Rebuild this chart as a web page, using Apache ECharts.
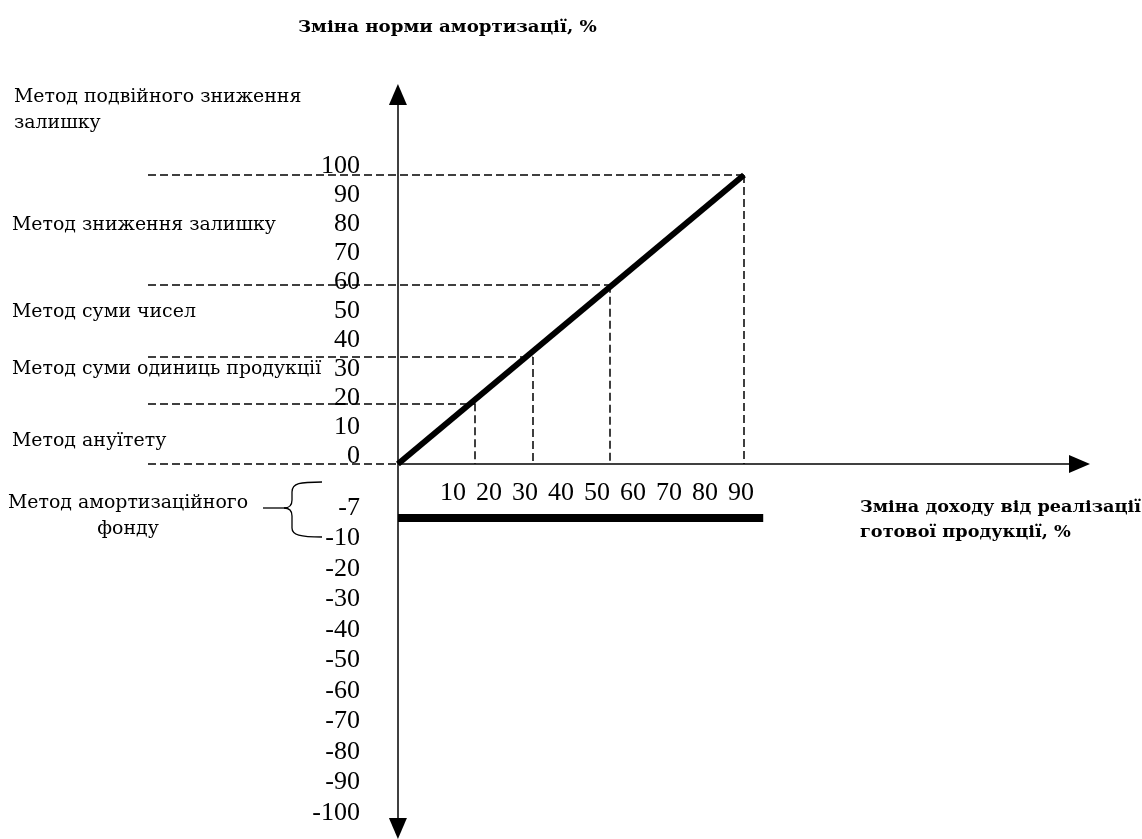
<!DOCTYPE html>
<html><head><meta charset="utf-8">
<script src="https://cdn.jsdelivr.net/npm/echarts@6/dist/echarts.min.js"></script>
<style>html,body{margin:0;padding:0;background:#fff}#chart{width:1142px;height:839px}</style>
</head><body><div id="chart"></div>
<script>
// ---------------- data ----------------
const yTickLabelsPos = ['100','90','80','70','60','50','40','30','20','10','0'];
const yTickLabelsNeg = ['-7','-10','-20','-30','-40','-50','-60','-70','-80','-90','-100'];
const xTickLabels = ['10','20','30','40','50','60','70','80','90'];
const trendX = [0, 90];
const trendY = [0, 100];
const guideX = [20, 35, 55, 90];
const guideY = [21, 37, 62, 100];
const fundLevel = '-7';
const fundX = [0, 95];
const methodNames = [
  'Метод подвійного зниження\nзалишку',
  'Метод зниження залишку',
  'Метод суми чисел',
  'Метод суми одиниць продукції',
  'Метод ануїтету',
  'Метод амортизаційного\nфонду'
];
const yTitle = 'Зміна норми амортизації, %';
const xTitle = 'Зміна доходу від реалізації\nготової продукції, %';

// ---------------- layout ----------------
const W = 1142, H = 839;
const X_MIN = -65, X_MAX = 180, Y_MIN = -129.8, Y_MAX = 131.5;
const G0 = {left: 148, right: 52, top: 464 - 131.5 * 2.89};
G0.bottom = H - (464 + 129.8 * 2.89);
const pxX = (W - G0.left - G0.right) / (X_MAX - X_MIN);
const pxY = (H - G0.top - G0.bottom) / (Y_MAX - Y_MIN);
const ARROW = [18, 21];
const halfX = ARROW[1] / 2 / pxX, halfY = ARROW[1] / 2 / pxY;
const methodLayout = [
  {x: 14, y: 97, align: 'left'},
  {x: 12, y: 225, align: 'left'},
  {x: 12, y: 312, align: 'left'},
  {x: 12, y: 369, align: 'left'},
  {x: 12, y: 441, align: 'left'},
  {x: 128, y: 503, align: 'center'}
];
const TXT = '"DejaVu Serif", "Liberation Serif", serif';
const NUM = '"Liberation Serif", "Times New Roman", serif';

const guideLines = [[{coord: [X_MIN, 0]}, {coord: [0, 0]}]];
guideX.forEach((x, i) => {
  guideLines.push([{coord: [X_MIN, guideY[i]]}, {coord: [x, guideY[i]]}]);
  guideLines.push([{coord: [x, guideY[i]]}, {coord: [x, 0]}]);
});

const hidden = {show: false};
const labelAxisCommon = {axisLine: hidden, axisTick: hidden, splitLine: hidden};

const braceStyle = {fill: null, stroke: '#000', lineWidth: 1.3};
const brace = [
  {type: 'bezierCurve', shape: {x1: 322, y1: 482, cpx1: 300, cpy1: 482, cpx2: 292, cpy2: 483, x2: 292, y2: 492}, style: braceStyle},
  {type: 'line', shape: {x1: 292, y1: 492, x2: 292, y2: 500}, style: braceStyle},
  {type: 'bezierCurve', shape: {x1: 292, y1: 500, cpx1: 292, cpy1: 506, cpx2: 289, cpy2: 508, x2: 284, y2: 508}, style: braceStyle},
  {type: 'bezierCurve', shape: {x1: 284, y1: 508, cpx1: 289, cpy1: 508, cpx2: 292, cpy2: 510, x2: 292, y2: 516}, style: braceStyle},
  {type: 'line', shape: {x1: 292, y1: 516, x2: 292, y2: 528}, style: braceStyle},
  {type: 'bezierCurve', shape: {x1: 292, y1: 528, cpx1: 292, cpy1: 535, cpx2: 300, cpy2: 537, x2: 322, y2: 537}, style: braceStyle},
  {type: 'line', shape: {x1: 263, y1: 508, x2: 284, y2: 508}, style: braceStyle}
];

const option = {
  animation: false,
  backgroundColor: '#fff',
  grid: [
    {left: G0.left, right: G0.right, top: G0.top, bottom: G0.bottom},
    {left: 398, width: 100, top: 166, bottom: H - 456},
    {left: 398, right: 52, top: 518, bottom: H - 823},
    {left: 453, right: W - 741, top: 470, bottom: H - 475}
  ],
  xAxis: [
    {type: 'value', gridIndex: 0, min: X_MIN, max: X_MAX, show: false},
    {type: 'value', gridIndex: 1, min: 0, max: 1, show: false},
    {type: 'value', gridIndex: 2, min: 0, max: X_MAX, show: false},
    Object.assign({type: 'category', gridIndex: 3, data: xTickLabels, boundaryGap: false, position: 'bottom',
      axisLabel: {interval: 0, margin: 5, color: '#000', fontFamily: NUM, fontSize: 26}}, labelAxisCommon)
  ],
  yAxis: [
    {type: 'value', gridIndex: 0, min: Y_MIN, max: Y_MAX, show: false},
    Object.assign({type: 'category', gridIndex: 1, data: yTickLabelsPos, inverse: true, boundaryGap: false, position: 'left',
      axisLabel: {interval: 0, margin: 38, color: '#000', fontFamily: NUM, fontSize: 26, align: 'right'}}, labelAxisCommon),
    Object.assign({type: 'category', gridIndex: 2, data: yTickLabelsNeg, inverse: true, boundaryGap: false, position: 'left',
      axisLabel: {interval: 0, margin: 38, color: '#000', fontFamily: NUM, fontSize: 26, align: 'right',
        verticalAlign: 'bottom', lineHeight: 20}}, labelAxisCommon),
    {type: 'value', gridIndex: 3, min: 0, max: 1, show: false}
  ],
  series: [
    {
      name: 'guides', type: 'line', xAxisIndex: 0, yAxisIndex: 0, data: [], z: 2,
      markLine: {silent: true, symbol: ['none', 'none'], label: {show: false},
        lineStyle: {color: '#000', width: 1.5, type: [8, 4]}, data: guideLines}
    },
    {
      name: 'axes', type: 'line', xAxisIndex: 0, yAxisIndex: 0, data: [], z: 3,
      markLine: {silent: true, symbol: ['none', 'none'], label: {show: false},
        lineStyle: {color: '#000', width: 1.5, type: 'solid'},
        data: [
          [{coord: [0, 0]}, {coord: [X_MAX - halfX, 0], symbol: 'triangle', symbolSize: ARROW}],
          [{coord: [0, Y_MIN + halfY], symbol: 'triangle', symbolSize: ARROW},
           {coord: [0, Y_MAX - halfY], symbol: 'triangle', symbolSize: ARROW}]
        ]}
    },
    {
      name: 'trend', type: 'line', xAxisIndex: 0, yAxisIndex: 0, z: 4,
      data: trendX.map((x, i) => [x, trendY[i]]),
      symbol: 'none', lineStyle: {color: '#000', width: 6}
    },
    {
      name: 'fund', type: 'line', xAxisIndex: 2, yAxisIndex: 2, z: 4,
      data: fundX.map(x => [x, fundLevel]),
      symbol: 'none', lineStyle: {color: '#000', width: 8}
    }
  ],
  graphic: [
    {type: 'text', x: 298, y: 28, scaleX: 1.07, style: {text: yTitle, font: 'bold 17px ' + TXT, fill: '#000',
      textAlign: 'left', textVerticalAlign: 'middle', align: 'left', verticalAlign: 'middle'}},
    {type: 'text', x: 860, y: 495, scaleX: 1.04, style: {text: xTitle, font: 'bold 17px ' + TXT, fill: '#000', lineHeight: 25,
      textAlign: 'left', textVerticalAlign: 'top', align: 'left', verticalAlign: 'top'}},
    ...methodNames.map((t, i) => ({type: 'text', x: methodLayout[i].x, y: methodLayout[i].y - 13, scaleX: 1.05,
      style: {text: t, font: '18px ' + TXT, fill: '#000', lineHeight: 26,
        textAlign: methodLayout[i].align, align: methodLayout[i].align, textVerticalAlign: 'top', verticalAlign: 'top'}})),
    ...brace
  ]
};

const chart = echarts.init(document.getElementById('chart'), null, {renderer: 'canvas', width: W, height: H});
chart.setOption(option);
</script>
</body></html>
